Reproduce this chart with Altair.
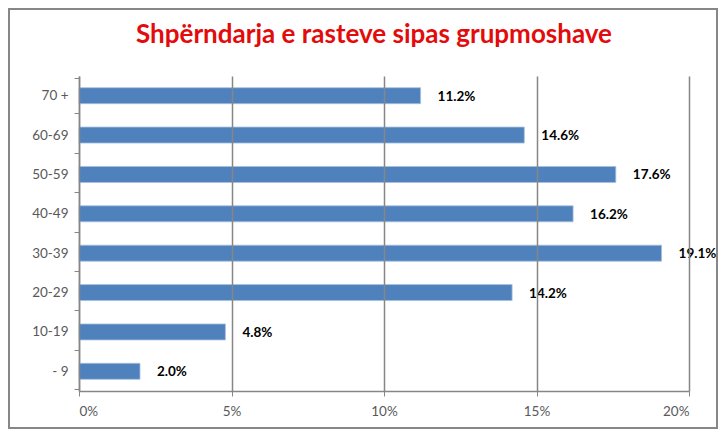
import pandas as pd
import altair as alt

# -----------------------------
# Data
# -----------------------------
age_groups = ["70 +", "60-69", "50-59", "40-49", "30-39", "20-29", "10-19", "- 9"]
shares = [11.2, 14.6, 17.6, 16.2, 19.1, 14.2, 4.8, 2.0]
x_ticks = [0, 5, 10, 15, 20]
title_text = "Shpërndarja e rasteve sipas grupmoshave"

df = pd.DataFrame({"age": age_groups, "share": shares})

W, H = 610, 315
PAD = {"left": 71, "top": 68, "right": 29, "bottom": 38}

base = alt.Chart(df).encode(
    y=alt.Y(
        "age:N",
        sort=age_groups,
        title=None,
        axis=alt.Axis(
            tickBand="extent",
            tickSize=5,
            tickColor="#868686",
            domainColor="#868686",
            domainWidth=1.5,
            labelColor="#595959",
            labelFont="Lato",
            labelFontSize=13.5,
            labelPadding=6,
            grid=False,
        ),
    ),
)

bars = base.mark_bar(size=16, color="#4F81BD", stroke="#A7C0DE", strokeWidth=0.8).encode(
    x=alt.X(
        "share:Q",
        title=None,
        scale=alt.Scale(domain=[0, 20], nice=False),
        axis=alt.Axis(
            values=x_ticks,
            labelExpr="datum.value + '%'",
            grid=True,
            gridColor="#868686",
            gridWidth=1.5,
            tickSize=5,
            tickColor="#868686",
            domainColor="#868686",
            domainWidth=1.5,
            labelColor="#595959",
            labelFont="Lato",
            labelFontSize=13.5,
            labelPadding=8,
            zindex=1,
        ),
    ),
)

labels = base.mark_text(
    align="left", baseline="middle", dx=17, dy=1,
    font="Lato", fontSize=13.5, fontWeight="bold", color="black"
).transform_calculate(
    lbl="format(datum.share, '.1f') + '%'"
).encode(
    x="share:Q",
    text="lbl:N",
)

one_row = pd.DataFrame({"t": [title_text]})

# chart title, drawn as text in the top padding
title = alt.Chart(one_row).mark_text(
    align="center", baseline="alphabetic",
    font="Lato", fontSize=26, fontWeight="bold", color="#E30B0B"
).encode(
    x=alt.value(W / 2 - 10),
    y=alt.value(-33),
    text="t:N",
)

# outer border of the chart area
border = alt.Chart(one_row).mark_rect(
    fillOpacity=0, stroke="#878787", strokeWidth=2
).encode(
    x=alt.value(-PAD["left"] + 1),
    x2=alt.value(W + PAD["right"] - 1),
    y=alt.value(-PAD["top"] + 1),
    y2=alt.value(H + PAD["bottom"] - 1),
)

chart = alt.layer(bars, labels, title, border).properties(
    width=W,
    height=H,
    padding=PAD,
    autosize=alt.AutoSizeParams(type="none"),
).configure_view(stroke=None)

chart.save("out.html", embed_options={"renderer": "svg", "actions": False})
